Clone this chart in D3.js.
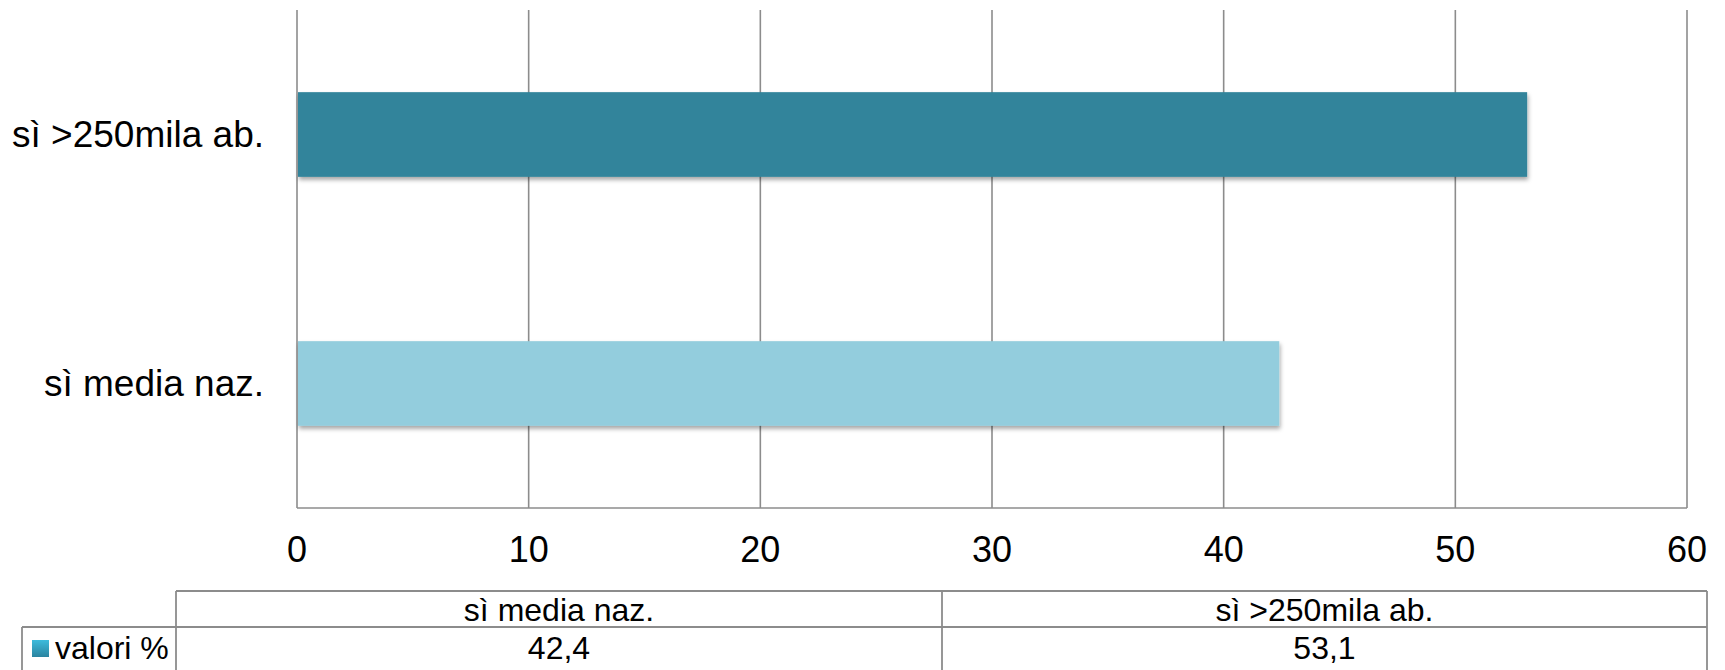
<!DOCTYPE html>
<html lang="it">
  <head>
    <meta charset="utf-8">
    <title>valori %</title>
    <style type="text/css">
      body{
        margin: 0;
        background: #ffffff;
      }
      svg{
        display: block;
        font-family: "Liberation Sans", Arial, sans-serif;
      }
      .grid line{
        stroke: #8c8c8c;
        stroke-width: 1.6;
      }
      .table line{
        stroke: #8c8c8c;
        stroke-width: 1.8;
      }
    </style>
    <script src="https://cdn.jsdelivr.net/npm/d3@7"></script>
  </head>
  <body>
    <div class="chart"></div>
    <script type="text/javascript">
      //categories in data order (first one is drawn at the bottom)
      var categories = ["sì media naz.", "sì >250mila ab."];
      //values in percent
      var values = [42.4, 53.1];
      //series name for the data table
      var seriesName = "valori %";
      //ticks of the value axis
      var ticks = [0, 10, 20, 30, 40, 50, 60];
      //colour of each bar
      var barColors = ["#93cddd", "#31849b"];

      var width = 1725;
      var height = 670;
      var plot = {left: 297, right: 1687, top: 10, bottom: 508};

      var svg = d3.select(".chart")
        .append("svg")
        .attr("width", width)
        .attr("height", height);

      //shadow under the bars
      var defs = svg.append("defs");
      var shadow = defs.append("filter")
        .attr("id", "shadow")
        .attr("x", "-5%").attr("y", "-20%")
        .attr("width", "110%").attr("height", "150%");
      shadow.append("feDropShadow")
        .attr("dx", 1).attr("dy", 3)
        .attr("stdDeviation", 2)
        .attr("flood-color", "#000")
        .attr("flood-opacity", 0.35);

      //gradient for the legend key
      var grad = defs.append("linearGradient")
        .attr("id", "keyGrad")
        .attr("x1", 0).attr("y1", 0).attr("x2", 0).attr("y2", 1);
      grad.append("stop").attr("offset", "0%").attr("stop-color", "#3dbbdc");
      grad.append("stop").attr("offset", "100%").attr("stop-color", "#2b84a0");

      var x = d3.scaleLinear()
        .domain([0, 60])
        .range([plot.left, plot.right]);

      var y = d3.scaleBand()
        .domain(categories.slice().reverse())
        .range([plot.top, plot.bottom])
        .paddingInner(0.66)
        .paddingOuter(0.33);

      //vertical gridlines
      var grid = svg.append("g").attr("class", "grid");
      grid.selectAll("line.v")
        .data(ticks)
        .enter()
        .append("line")
        .attr("class", "v")
        .attr("x1", d => x(d)).attr("x2", d => x(d))
        .attr("y1", plot.top).attr("y2", plot.bottom);
      grid.append("line")
        .attr("x1", x(0)).attr("x2", x(60))
        .attr("y1", plot.bottom).attr("y2", plot.bottom);

      //bars
      svg.selectAll("rect.bar")
        .data(categories)
        .enter()
        .append("rect")
        .attr("class", "bar")
        .attr("x", x(0) + 1)
        .attr("y", d => y(d))
        .attr("width", (d, i) => x(values[i]) - x(0) - 1)
        .attr("height", y.bandwidth())
        .attr("fill", (d, i) => barColors[i])
        .attr("filter", "url(#shadow)");

      //category labels
      svg.selectAll("text.cat")
        .data(categories)
        .enter()
        .append("text")
        .attr("class", "cat")
        .attr("x", plot.left - 33)
        .attr("y", d => y(d) + y.bandwidth() / 2)
        .attr("dy", "0.35em")
        .attr("text-anchor", "end")
        .style("font-size", "37px")
        .text(d => d);

      //value axis labels
      svg.selectAll("text.tick")
        .data(ticks)
        .enter()
        .append("text")
        .attr("class", "tick")
        .attr("x", d => x(d))
        .attr("y", 562)
        .attr("text-anchor", "middle")
        .style("font-size", "36px")
        .text(d => d);

      //data table under the chart
      var table = svg.append("g").attr("class", "table");
      var row1 = 591, row2 = 627, row3 = 672;
      var tableLeft = 22, headLeft = 176, tableRight = 1707;
      var colX = d3.scaleOrdinal()
        .domain(categories)
        .range([[headLeft, 942], [942, tableRight]]);

      //horizontal rules
      table.append("line")
        .attr("x1", headLeft).attr("x2", tableRight)
        .attr("y1", row1).attr("y2", row1);
      table.append("line")
        .attr("x1", tableLeft).attr("x2", tableRight)
        .attr("y1", row2).attr("y2", row2);
      table.append("line")
        .attr("x1", tableLeft).attr("x2", tableRight)
        .attr("y1", row3).attr("y2", row3);

      //vertical rules
      table.append("line")
        .attr("x1", tableLeft).attr("x2", tableLeft)
        .attr("y1", row2).attr("y2", row3);
      [headLeft].concat(categories.map(c => colX(c)[1])).forEach(function(cx){
        table.append("line")
          .attr("x1", cx).attr("x2", cx)
          .attr("y1", row1).attr("y2", row3);
      });

      table.selectAll("text.head")
        .data(categories)
        .enter()
        .append("text")
        .attr("class", "head")
        .attr("x", d => (colX(d)[0] + colX(d)[1]) / 2)
        .attr("y", (row1 + row2) / 2)
        .attr("dy", "0.36em")
        .attr("text-anchor", "middle")
        .style("font-size", "32px")
        .text(d => d);

      table.selectAll("text.val")
        .data(categories)
        .enter()
        .append("text")
        .attr("class", "val")
        .attr("x", d => (colX(d)[0] + colX(d)[1]) / 2)
        .attr("y", 659)
        .attr("text-anchor", "middle")
        .style("font-size", "32px")
        .text((d, i) => values[i].toFixed(1).replace(".", ","));

      //series name with legend key
      table.append("rect")
        .attr("x", 32).attr("y", 640)
        .attr("width", 17).attr("height", 17)
        .attr("fill", "url(#keyGrad)");
      table.append("text")
        .attr("x", 55)
        .attr("y", 659)
        .style("font-size", "32px")
        .text(seriesName);
    </script>
  </body>
</html>
